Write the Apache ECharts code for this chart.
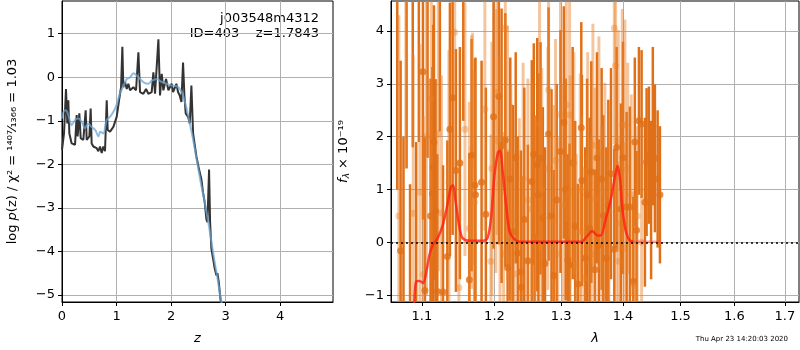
<!DOCTYPE html>
<html>
<head>
<meta charset="utf-8">
<script src="https://cdn.jsdelivr.net/npm/echarts@6/dist/echarts.min.js"></script>
<style>
  html, body { margin: 0; padding: 0; background: #fff; }
  #chart { width: 800px; height: 350px; }
</style>
</head>
<body>
<div id="chart"></div>
<script>
// ---- left panel: log p(z) ----
const zChi = [0.000, 0.037, 0.073, 0.098, 0.116, 0.135, 0.177, 0.239, 0.269, 0.287, 0.318, 0.343, 0.391, 0.434, 0.453,
  0.502, 0.526, 0.544, 0.575, 0.636, 0.667, 0.697, 0.728, 0.758, 0.789, 0.820, 0.838, 0.881, 0.942, 1.003, 1.046, 1.083,
  1.107, 1.125, 1.156, 1.187, 1.217, 1.248, 1.309, 1.358, 1.401, 1.431, 1.492, 1.541, 1.584, 1.645, 1.676, 1.706, 1.768,
  1.798, 1.829, 1.859, 1.908, 1.951, 2.012, 2.037, 2.098, 2.128, 2.159, 2.190, 2.220, 2.245, 2.269, 2.312, 2.343, 2.373,
  2.404, 2.465, 2.514, 2.557, 2.587, 2.618, 2.648, 2.667, 2.697, 2.716, 2.740, 2.771, 2.801, 2.832, 2.850, 2.875, 2.905, 2.930];
const lnpChi = [-1.67, -1.29, -0.27, -1.06, -0.53, -1.29, -1.52, -1.55, -0.87, -1.36, -0.83, -1.40, -1.44, -0.76, -1.44,
  -1.36, -0.72, -1.52, -1.59, -1.63, -1.70, -1.59, -1.74, -1.59, -1.70, -0.53, -1.21, -1.25, -1.14, -0.91, -0.53, -0.23,
  0.70, -0.23, -0.11, -0.27, -0.15, -0.30, -0.23, -0.30, 0.57, -0.34, -0.38, -0.27, -0.38, -0.34, 0.11, -0.38, 0.87,
  -0.42, 0.08, -0.30, -0.04, -0.30, -0.15, -0.34, -0.15, -0.34, -0.42, -0.57, 0.34, -0.42, -0.83, -0.91, -1.06, -0.19,
  -1.29, -1.82, -2.12, -2.35, -2.65, -2.88, -3.26, -3.33, -2.12, -3.33, -3.94, -4.17, -4.39, -4.55, -4.50, -4.70, -5.08, -5.30];

const zSmooth = [0.00, 0.025, 0.07, 0.116, 0.177, 0.239, 0.30, 0.36, 0.42, 0.48, 0.54, 0.61, 0.667, 0.70, 0.758, 0.82,
  0.88, 0.94, 1.00, 1.06, 1.13, 1.19, 1.25, 1.31, 1.37, 1.43, 1.49, 1.58, 1.65, 1.74, 1.83, 1.92, 2.01, 2.10, 2.20,
  2.25, 2.30, 2.35, 2.40, 2.45, 2.50, 2.55, 2.60, 2.65, 2.70, 2.75, 2.80, 2.85, 2.90, 2.95];
const lnpSmooth = [-0.95, -0.80, -0.76, -0.87, -1.10, -0.98, -0.95, -1.02, -1.17, -1.06, -1.14, -1.21, -1.36, -1.25,
  -1.29, -0.98, -0.91, -0.80, -0.64, -0.38, -0.19, -0.04, 0.00, 0.09, 0.04, -0.04, -0.11, -0.15, -0.08, -0.04, -0.11,
  -0.15, -0.19, -0.20, -0.35, -0.55, -0.80, -1.10, -1.40, -1.75, -2.10, -2.45, -2.75, -3.10, -3.45, -3.85, -4.25,
  -4.60, -5.00, -5.30];

const zTicks = [0, 1, 2, 3, 4];
const lnpTicks = [-5, -4, -3, -2, -1, 0, 1];

// ---- right panel: spectrum ----
const darkLam = [1.0680, 1.0723, 1.0760, 1.0800, 1.0845, 1.0880, 1.0925, 1.0960, 1.1014, 1.1040, 1.1075, 1.1115, 1.1140,
  1.1150, 1.1160, 1.1182, 1.1205, 1.1240, 1.1282, 1.1341, 1.1376, 1.1413, 1.1458, 1.1513, 1.1560, 1.1644, 1.1676, 1.1722,
  1.1730, 1.1816, 1.1877, 1.1987, 1.2064, 1.2103, 1.2157, 1.2191, 1.2387, 1.2395, 1.2437, 1.2491, 1.2550, 1.2580, 1.2591,
  1.2632, 1.2682, 1.2717, 1.2805, 1.2886, 1.2989, 1.3041, 1.3104, 1.3131, 1.3263, 1.3317, 1.3327, 1.3450, 1.3478, 1.3536,
  1.3601, 1.3646, 1.3673, 1.3756, 1.3855, 1.3894, 1.3965, 1.4061, 1.4116, 1.4174, 1.4230, 1.4316, 1.4373, 1.4402, 1.4442,
  1.4546, 1.4594, 1.4634,
  1.2230, 1.2270, 1.2310, 1.2340, 1.2650, 1.2750, 1.2850, 1.2930, 1.3070, 1.3180, 1.3220, 1.3380, 1.3410, 1.3570, 1.3720,
  1.3800, 1.4000, 1.4200, 1.4270, 1.4480, 1.4510];
const darkFlux = [4.9, -0.16, -1.4, 5.0, -1.3, 5.2, -1.6, 4.9, 3.23, -0.91, 4.8, 0.50, 0.92, 1.42, 1.89, 0.59, -0.93, 4.7,
  -0.94, -0.27, 2.14, 2.74, 1.36, 1.50, 4.7, -0.71, 1.65, 1.08, 0.90, 1.14, 0.53, 2.38, 2.76, 1.83, 1.94, -0.48, -0.56,
  -0.85, 0.43, -0.35, 1.15, 1.67, 0.10, 1.47, 1.59, 0.46, 2.05, -0.63, 1.72, 2.27, -0.33, -0.43, -0.79, 2.17, 1.17, 0.26,
  1.33, -0.52, -0.05, 1.20, 0.51, 0.70, -0.13, 1.80, 0.63, 0.67, 0.67, -0.74, 0.23, 2.24, 0.76, 1.52, 1.65, 1.59, 1.20, 0.90,
  1.2, 0.2, 1.6, -0.2, 0.9, -0.4, 0.5, 0.8, 1.0, 1.5, 0.3, -0.3, 0.9, 1.6, -0.3, 1.3, 1.6, 1.9, 2.3, 0.8, 2.2];
const darkErr = [3.9, 3.6, 3.4, 3.6, 2.4, 3.4, 3.5, 3.0, 2.8, 2.9, 3.2, 2.6, 2.4, 2.7, 2.6, 2.5, 2.6, 2.6, 2.4, 2.2, 2.4,
  2.6, 2.3, 2.2, 2.4, 2.4, 2.2, 2.4, 2.6, 2.3, 2.4, 2.5, 2.8, 2.6, 2.4, 2.2, 2.3, 2.1, 2.5, 2.2, 2.3, 2.1, 2.3, 2.4, 2.2,
  2.1, 2.4, 2.0, 2.3, 2.2, 2.0, 2.3, 1.9, 2.0, 2.0, 2.1, 2.1, 1.9, 2.0, 2.1, 1.9, 2.0, 1.9, 1.9, 2.0, 1.8, 1.9, 1.6, 1.5,
  1.4, 1.6, 1.4, 1.3, 1.4, 1.3, 1.3,
  2.3, 2.4, 2.0, 2.2, 2.3, 2.2, 2.4, 2.2, 2.1, 2.2, 2.0, 2.1, 2.2, 2.0, 2.1, 2.0, 2.2, 1.6, 1.4, 1.5, 1.5];

const lightLam = [1.0700, 1.0790, 1.0887, 1.0974, 1.1019, 1.1060, 1.1125, 1.1218, 1.1262, 1.1362, 1.1441, 1.1499, 1.1583,
  1.1644, 1.1676, 1.1690, 1.1714, 1.1863, 1.1949, 1.1963, 1.2020, 1.2035, 1.2132, 1.2157, 1.2239, 1.2245, 1.2289, 1.2363,
  1.2491, 1.2550, 1.2667, 1.2794, 1.2805, 1.2912, 1.2948, 1.2989, 1.3131, 1.3140, 1.3237, 1.3317, 1.3370, 1.3478, 1.3504,
  1.3537, 1.3601, 1.3699, 1.3766, 1.3855, 1.3876, 1.3893, 1.3921, 1.3930, 1.3988, 1.4015, 1.4032, 1.4190, 1.4316,
  1.2080, 1.2190, 1.2420, 1.2600, 1.2700, 1.2880, 1.3030, 1.3080, 1.3200, 1.3300, 1.3420, 1.3650, 1.4080, 1.4140, 1.4240];
const lightFlux = [0.5, 4.6, 0.55, 0.95, -0.61, 2.0, 2.72, 2.05, 0.56, 1.14, 3.98, -0.86, 2.14, 0.26, 1.52, 1.77, 0.76,
  2.52, -0.36, 1.40, 1.92, 2.84, -0.21, 4.06, 0.58, 0.42, -0.60, -0.05, 0.80, 0.63, 2.24, 1.40, 2.89, 1.55, -0.21, 2.42,
  2.41, 0.96, -0.43, 0.20, -0.68, -0.23, 1.84, 0.83, 1.70, 0.92, 0.58, 4.06, 3.35, 0.36, 1.92, -0.36, 2.22, -0.11, 2.22,
  -0.81, 0.00,
  1.1, 1.7, 1.2, 0.1, 1.0, 0.4, 0.7, 2.6, 1.5, 1.0, 1.6, 0.2, 1.4, 0.9, 0.5];
const lightErr = [3.8, 3.2, 3.0, 2.8, 3.0, 3.0, 3.0, 2.6, 2.6, 2.5, 2.6, 2.4, 2.4, 2.4, 2.4, 2.2, 2.5, 2.3, 2.4, 2.4, 2.5,
  2.7, 2.3, 2.8, 2.4, 2.2, 2.3, 2.4, 2.3, 2.4, 2.4, 2.3, 2.5, 2.3, 2.2, 2.4, 2.3, 2.2, 2.1, 2.2, 2.1, 2.2, 2.3, 2.1, 2.2,
  2.1, 2.0, 2.2, 2.4, 2.0, 2.1, 1.9, 2.2, 2.0, 2.0, 1.7, 1.5,
  2.4, 2.4, 2.2, 2.3, 2.3, 2.2, 2.3, 2.2, 2.1, 2.2, 2.0, 2.0, 2.0, 1.9, 1.7];

const lamModel = [1.0900, 1.0925, 1.0970, 1.1015, 1.1060, 1.1100, 1.1145, 1.1210, 1.1280, 1.1340, 1.1390, 1.1420, 1.1455,
  1.1510, 1.1550, 1.1650, 1.1830, 1.1900, 1.1950, 1.2000, 1.2050, 1.2080, 1.2120, 1.2170, 1.2220, 1.2290, 1.2367, 1.3320,
  1.3390, 1.3495, 1.3580, 1.3630, 1.3715, 1.3800, 1.3870, 1.3910, 1.3950, 1.3990, 1.4050, 1.4110, 1.4170];
const fluxModel = [-1.15, -0.74, -0.73, -0.77, -0.55, -0.24, -0.05, 0.08, 0.33, 0.70, 1.05, 1.08, 0.76, 0.26, 0.08, 0.03,
  0.03, 0.08, 0.45, 1.27, 1.70, 1.74, 1.33, 0.70, 0.20, 0.06, 0.01, 0.01, 0.09, 0.21, 0.13, 0.13, 0.45, 0.83, 1.27, 1.45,
  1.20, 0.64, 0.20, 0.04, 0.01];
const lamModelTail = [1.4110, 1.4170, 1.4300, 1.4500, 1.4650];
const fluxModelTail = [0.04, 0.01, 0.01, 0.01, 0.01];

const lamTicks = [1.1, 1.2, 1.3, 1.4, 1.5, 1.6, 1.7];
const fluxTicks = [-1, 0, 1, 2, 3, 4];

const darkColor = '#e07018';
const lightColor = 'rgba(232,128,40,0.45)';
const font = 'DejaVu Sans';

const zip = (a, b) => a.map((v, i) => [v, b[i]]);
const minus = v => (v < 0 ? '\u2212' + Math.abs(v) : String(v));

function errorBars(lam, flux, err, color, width) {
  return {
    type: 'custom',
    xAxisIndex: 1,
    yAxisIndex: 1,
    silent: true,
    encode: { x: 0, y: [1, 2] },
    data: lam.map((l, i) => [l, flux[i] - err[i], flux[i] + err[i]]),
    renderItem: function (params, api) {
      const lo = api.coord([api.value(0), api.value(1)]);
      const hi = api.coord([api.value(0), api.value(2)]);
      const cs = params.coordSys;
      const top = Math.max(hi[1], cs.y);
      const bot = Math.min(lo[1], cs.y + cs.height);
      if (bot <= top) return;
      return {
        type: 'line',
        shape: { x1: lo[0], y1: top, x2: lo[0], y2: bot },
        style: { stroke: color, lineWidth: width }
      };
    }
  };
}

function axisCommon() {
  return {
    axisLine: { show: true, onZero: false, lineStyle: { color: '#000', width: 1 } },
    splitLine: { show: true, lineStyle: { color: '#b0b0b0', width: 1 } },
    nameTextStyle: { fontFamily: font, fontSize: 13, color: '#000' }
  };
}

const chart = echarts.init(document.getElementById('chart'), null, { renderer: 'canvas' });

const option = {
  backgroundColor: '#fff',
  animation: false,
  textStyle: { fontFamily: font },
  grid: [
    { left: 62, top: 1, width: 271, height: 303, show: true, borderColor: '#000', borderWidth: 1, backgroundColor: 'transparent' },
    { left: 391, top: 1, width: 408, height: 303, show: true, borderColor: '#000', borderWidth: 1, backgroundColor: 'transparent' }
  ],
  xAxis: [
    Object.assign(axisCommon(), {
      type: 'value', gridIndex: 0, min: 0, max: 4.97,
      name: 'z', nameLocation: 'middle', nameGap: 30,
      nameTextStyle: { fontFamily: font, fontSize: 13, fontStyle: 'italic', color: '#000' },
      axisTick: { show: true, length: 4, lineStyle: { color: '#000' }, customValues: zTicks },
      axisLabel: { customValues: zTicks, fontSize: 13, color: '#000', margin: 8, formatter: minus }
    }),
    Object.assign(axisCommon(), {
      type: 'log', logBase: 10, gridIndex: 1, min: 1.06, max: 1.729,
      name: '\u03bb', nameLocation: 'middle', nameGap: 30,
      nameTextStyle: { fontFamily: font, fontSize: 13, fontStyle: 'italic', color: '#000' },
      axisTick: { show: true, length: 4, lineStyle: { color: '#000' }, customValues: lamTicks },
      axisLabel: { customValues: lamTicks, fontSize: 13, color: '#000', margin: 8, formatter: v => Number(v).toFixed(1) }
    })
  ],
  yAxis: [
    Object.assign(axisCommon(), {
      type: 'value', gridIndex: 0, min: -5.16, max: 1.75,
      name: '{a|log }{i|p}{a|(z) / \u03c7\u00b2 = }{f|\u00b9\u2074\u2070\u2077\u2044\u2081\u2083\u2086\u2086}{a| = 1.03}',
      nameLocation: 'middle', nameGap: 43, nameRotate: 90,
      nameTextStyle: {
        rich: {
          a: { fontFamily: font, fontSize: 13, color: '#000' },
          i: { fontFamily: font, fontSize: 13, fontStyle: 'italic', color: '#000' },
          f: { fontFamily: font, fontSize: 13, color: '#000' }
        }
      },
      axisTick: { show: true, length: 4, lineStyle: { color: '#000' }, customValues: lnpTicks },
      axisLabel: { customValues: lnpTicks, fontSize: 13, color: '#000', margin: 7, formatter: minus }
    }),
    Object.assign(axisCommon(), {
      type: 'value', gridIndex: 1, min: -1.13, max: 4.57,
      name: '{i|f}{s|\u03bb}{a| \u00d7 10\u207b\u00b9\u2079}',
      nameLocation: 'middle', nameGap: 40, nameRotate: 90,
      nameTextStyle: {
        rich: {
          a: { fontFamily: font, fontSize: 13, color: '#000' },
          i: { fontFamily: font, fontSize: 13, fontStyle: 'italic', color: '#000' },
          s: { fontFamily: font, fontSize: 9, fontStyle: 'italic', color: '#000', padding: [6, 0, 0, 0] }
        }
      },
      axisTick: { show: true, length: 4, lineStyle: { color: '#000' }, customValues: fluxTicks },
      axisLabel: { customValues: fluxTicks, fontSize: 13, color: '#000', margin: 7, formatter: minus }
    })
  ],
  series: [
    {
      type: 'line', xAxisIndex: 0, yAxisIndex: 0, data: zip(zChi, lnpChi),
      showSymbol: false, clip: true, lineStyle: { color: '#333333', width: 2 }
    },
    {
      type: 'line', xAxisIndex: 0, yAxisIndex: 0, data: zip(zSmooth, lnpSmooth), smooth: 0.3,
      showSymbol: false, clip: true, lineStyle: { color: 'rgba(110,165,210,0.75)', width: 2 }, z: 3
    },
    errorBars(darkLam, darkFlux, darkErr, darkColor, 2.5),
    errorBars(lightLam, lightFlux, lightErr, lightColor, 3),
    {
      type: 'scatter', xAxisIndex: 1, yAxisIndex: 1, data: zip(darkLam, darkFlux), clip: true,
      symbolSize: 7, itemStyle: { color: darkColor }
    },
    {
      type: 'scatter', xAxisIndex: 1, yAxisIndex: 1, data: zip(lightLam, lightFlux), clip: true,
      symbolSize: 7, itemStyle: { color: lightColor }
    },
    {
      type: 'line', xAxisIndex: 1, yAxisIndex: 1, data: zip(lamModelTail, fluxModelTail),
      showSymbol: false, clip: true, lineStyle: { color: 'rgba(255,60,60,0.45)', width: 2.5 }
    },
    {
      type: 'line', xAxisIndex: 1, yAxisIndex: 1, data: zip(lamModel, fluxModel), smooth: 0.3,
      showSymbol: false, clip: true, lineStyle: { color: 'rgba(255,30,20,0.8)', width: 2.5 },
      markLine: {
        silent: true, symbol: 'none', label: { show: false },
        lineStyle: { color: '#000', type: [2, 3], width: 1.5 },
        data: [{ yAxis: 0 }]
      }
    }
  ],
  graphic: [
    { type: 'text', right: 481, top: 12, style: { text: 'j003548m4312', font: '13px "DejaVu Sans"', fill: '#000' } },
    { type: 'text', right: 481, top: 27, style: { text: 'ID=403    z=1.7843', font: '13px "DejaVu Sans"', fill: '#000' } },
    { type: 'text', right: 12, top: 336, style: { text: 'Thu Apr 23 14:20:03 2020', font: '7px "DejaVu Sans"', fill: '#000' } }
  ]
};

chart.setOption(option);
</script>
</body>
</html>
